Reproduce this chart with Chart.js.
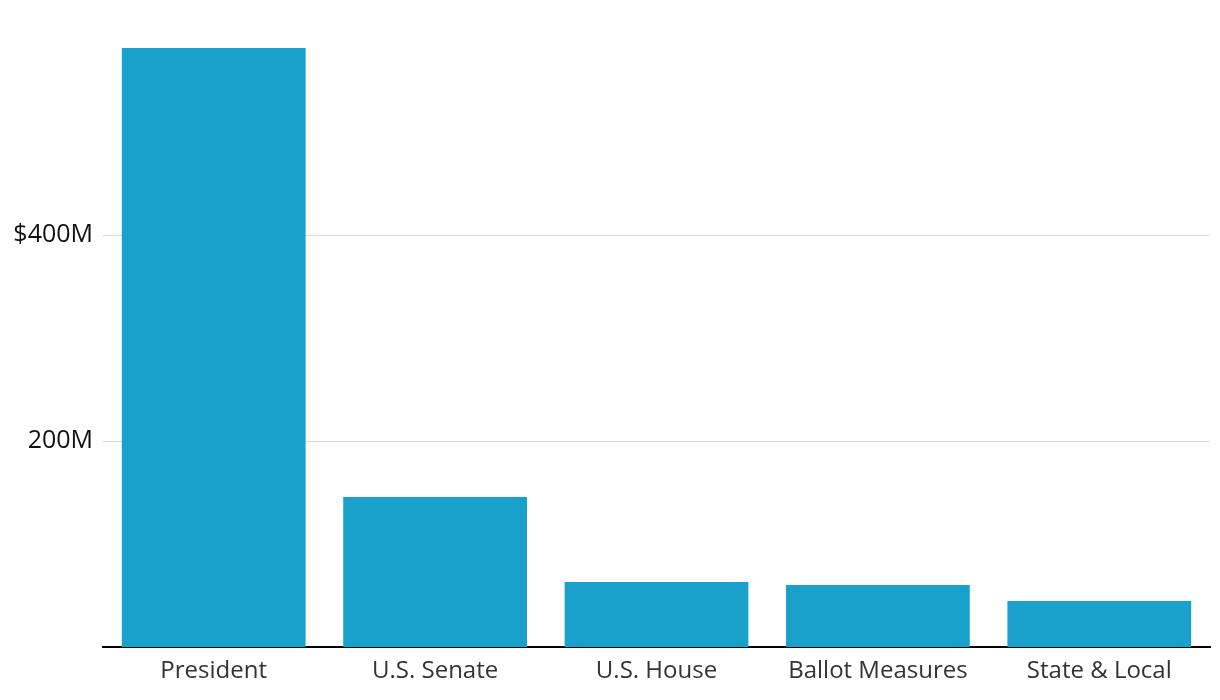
<!DOCTYPE html>
<html>
<head>
<meta charset="utf-8">
<script src="https://cdn.jsdelivr.net/npm/chart.js@4"></script>
<style>
  html, body { margin: 0; padding: 0; background: #fff; }
  #wrap { width: 1220px; height: 700px; }
</style>
</head>
<body>
<div id="wrap"><canvas id="spendChart" width="1220" height="700"></canvas></div>
<script>
const categories = ['President', 'U.S. Senate', 'U.S. House', 'Ballot Measures', 'State & Local']
const spending = [581.5, 145.6, 63.1, 60.2, 44.7] // millions of dollars
const yTicks = [200, 400]

const ctx = document.getElementById('spendChart').getContext('2d')

new Chart(ctx, {
  type: 'bar',
  data: {
    labels: categories,
    datasets: [
      {
        data: spending,
        backgroundColor: '#19a1cc',
        borderWidth: 0,
        barPercentage: 0.83,
        categoryPercentage: 1
      }
    ]
  },
  options: {
    responsive: false,
    animation: false,
    layout: {
      padding: { top: 29, right: 10, left: 0, bottom: 0 }
    },
    plugins: {
      legend: { display: false },
      tooltip: { enabled: false }
    },
    scales: {
      x: {
        grid: { display: false, drawTicks: false },
        border: { display: true, color: '#000', width: 2 },
        ticks: {
          color: '#333',
          padding: 10,
          font: { family: 'Open Sans', size: 24 }
        },
        afterFit: scale => { scale.height = 53 }
      },
      y: {
        min: 0,
        max: 600,
        border: { display: false },
        grid: { color: '#d9d9d9', lineWidth: 1, drawTicks: false },
        afterBuildTicks: scale => {
          scale.ticks = yTicks.map(v => ({ value: v }))
        },
        afterFit: scale => { scale.width = 103 },
        ticks: {
          color: '#111',
          padding: 10,
          font: { family: 'Open Sans', size: 25 },
          callback: (value, index, ticks) =>
            index === ticks.length - 1 ? '$' + value + 'M' : value + 'M'
        }
      }
    }
  }
})
</script>
</body>
</html>
